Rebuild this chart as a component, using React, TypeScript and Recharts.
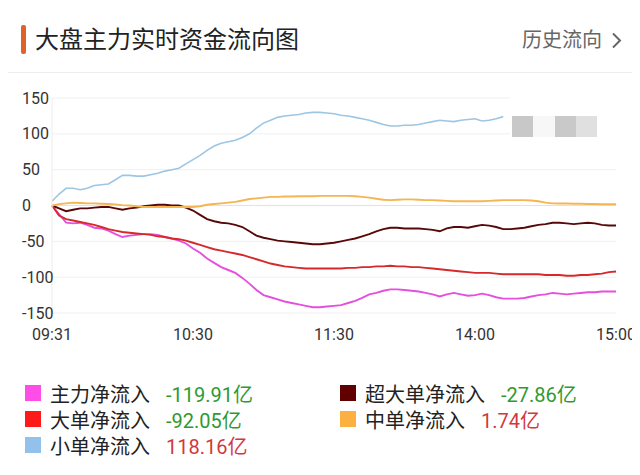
import React from 'react';
import { LineChart, Line, XAxis, YAxis, CartesianGrid, ReferenceLine } from 'recharts';

// 3-minute samples: 09:31 .. 11:30, 13:03 .. 15:00 (81 points)
const times: string[] = [];
for (let i = 0; i <= 80; i++) {
  const m = i <= 40 ? 570 + i * 3 : 780 + (i - 40) * 3;
  const hh = String(Math.floor(m / 60)).padStart(2, '0');
  const mm = String(m % 60).padStart(2, '0');
  times.push(i === 0 ? '09:31' : `${hh}:${mm}`);
}

const yTicks = [-150, -100, -50, 0, 50, 100, 150];

// 主力净流入
const mainFlow = [
  0, -12, -24, -25, -24, -27, -31, -32, -35, -40,
  -44, -42, -41, -40, -40, -41, -44, -46, -49, -53,
  -60, -66, -74, -80, -86, -90, -94, -101, -109, -118,
  -125, -128, -131, -134, -136, -138, -140, -142, -142, -141,
  -140, -139, -136, -133, -129, -124, -122, -119, -117, -117,
  -118, -119, -120, -122, -124, -127, -124, -122, -124, -126,
  -125, -123, -125, -128, -130, -130, -130, -129, -127, -125,
  -124, -122, -123, -124, -123, -122, -121, -121, -120, -120,
  -119.91,
];

// 超大单净流入
const superLarge = [
  0, -4, -8, -6, -4, -4, -3, -2, -2, -4,
  -6, -4, -3, -1, 0, 1, 1, 0, 0, -3,
  -7, -13, -19, -22, -24, -25, -27, -30, -36, -42,
  -45, -47, -49, -50, -51, -52, -53, -54, -54, -53,
  -52, -50, -48, -46, -43, -40, -36, -33, -31, -31,
  -32, -32, -32, -33, -34, -36, -32, -30, -30, -31,
  -29, -27, -28, -30, -33, -33, -32, -31, -29, -27,
  -26, -24, -24, -25, -26, -25, -24, -25, -27, -28,
  -27.86,
];

// 大单净流入
const large = [
  0, -14, -19, -21, -23, -25, -27, -30, -33, -35,
  -37, -38, -39, -40, -41, -43, -44, -46, -47, -49,
  -52, -55, -58, -61, -63, -65, -67, -69, -72, -75,
  -78, -81, -83, -85, -86, -87, -88, -88, -88, -88,
  -88, -88, -87, -87, -86, -86, -85, -85, -84, -85,
  -85, -86, -86, -87, -88, -89, -90, -91, -92, -93,
  -94, -94, -94, -95, -96, -96, -96, -96, -96, -96,
  -97, -97, -97, -98, -98, -97, -97, -96, -95, -93,
  -92.05,
];

// 中单净流入
const medium = [
  0, 2, 3, 4, 3.5, 3, 3, 2.5, 2, 1.5,
  0.5, 0, -1, -2, -2, -2, -2, -2, -2, -2,
  -2, -1, 1, 2, 3, 4, 5, 7, 9, 10,
  11, 12, 12, 12.5, 12.5, 13, 13, 13, 13.5, 13.5,
  13.5, 13.5, 13.5, 13, 12, 11, 9.5, 8, 7.5, 8,
  8.5, 8.5, 8, 7.5, 7.5, 7, 6.5, 6, 6, 6,
  6, 6, 6.5, 7, 7.5, 7.5, 7.5, 7.5, 7, 6,
  4, 3, 2.8, 2.8, 2.5, 2.5, 2, 2, 1.8, 1.8,
  1.74,
];

// 小单净流入 (the tail is covered in the picture)
const small: (number | null)[] = [
  6, 16, 24, 24, 22, 24, 28, 29, 30, 36,
  42, 42, 41, 41, 43, 45, 48, 50, 52, 58,
  64, 70, 77, 83, 87, 89, 91, 95, 100, 108,
  115, 119, 123, 125, 126, 127, 129, 130, 130, 129,
  128, 126, 125, 123, 121, 119, 116, 113, 111, 111,
  112, 112, 113, 115, 117, 119, 118, 117, 119, 120,
  121, 118, 119, 121, 124, null, null, null, null, null,
  null, null, null, null, null, null, null, null, null, null,
  null,
];

const seriesNames = ['主力净流入', '超大单净流入', '大单净流入', '中单净流入', '小单净流入'];
const latestValues = [-119.91, -27.86, -92.05, 1.74, 118.16];
const seriesKeys = ['main', 'superLarge', 'large', 'medium', 'small'];
const lineColors = ['#e64fde', '#580808', '#d6292b', '#f4b552', '#9cc6e4'];
const swatchColors = ['#ff4ee8', '#600000', '#ff1a1a', '#fbb040', '#92c2ea'];

const data = times.map((time, i) => ({
  time,
  main: mainFlow[i],
  superLarge: superLarge[i],
  large: large[i],
  medium: medium[i],
  small: small[i],
}));

const font = "Roboto, 'Noto Sans CJK SC', sans-serif";

const YTick = (props: any) => {
  const { y, payload } = props;
  return (
    <text x={22} y={y} dy={5.5} fill="#333" fontSize={16} fontFamily={font} textAnchor="start">
      {payload.value}
    </text>
  );
};

// legend slots: [column left, row center]
const legendSlots = [
  [25, 393],
  [340, 393],
  [25, 419],
  [340, 419],
  [25, 445],
];

export default function App() {
  return (
    <div
      style={{
        position: 'relative',
        width: 640,
        height: 475,
        margin: -8,
        background: '#fff',
        fontFamily: font,
        overflow: 'hidden',
      }}
    >
      <div style={{ position: 'absolute', left: 0, top: 0, width: 640, height: 7, background: '#f4f5f9' }} />
      <div
        style={{ position: 'absolute', left: 21, top: 25, width: 5, height: 29, borderRadius: 2, background: '#e0612a' }}
      />
      <div style={{ position: 'absolute', left: 35, top: 24, fontSize: 24, lineHeight: '32px', color: '#222' }}>
        大盘主力实时资金流向图
      </div>
      <div style={{ position: 'absolute', left: 522, top: 26, fontSize: 20, lineHeight: '28px', color: '#666' }}>
        历史流向
      </div>
      <svg style={{ position: 'absolute', left: 611, top: 32 }} width={12} height={17}>
        <polyline points="2,1.5 9,8.5 2,15.5" fill="none" stroke="#666" strokeWidth={2} />
      </svg>
      <div style={{ position: 'absolute', left: 0, top: 72, width: 640, height: 1, background: '#eeeeee' }} />

      <div style={{ position: 'absolute', left: 0, top: 80 }}>
        <LineChart
          width={640}
          height={270}
          data={data}
          margin={{ top: 18, right: 24, bottom: 7, left: 0 }}
          style={{ overflow: 'visible' }}
        >
          <CartesianGrid vertical={false} stroke="#f0f0f0" />
          <XAxis
            dataKey="time"
            interval={19}
            tickLine={false}
            axisLine={false}
            height={30}
            tickMargin={10}
            tick={{ fontSize: 16, fill: '#333', fontFamily: font }}
          />
          <YAxis
            width={52}
            domain={[-150, 150]}
            ticks={yTicks}
            tickLine={false}
            axisLine={{ stroke: '#ececec' }}
            tick={<YTick />}
          />
          <ReferenceLine y={0} stroke="#e2e2e2" />
          {seriesKeys.map((key, i) => (
            <Line
              key={key}
              type="linear"
              dataKey={key}
              name={seriesNames[i]}
              stroke={lineColors[i]}
              strokeWidth={i === 4 ? 1.6 : 1.9}
              dot={false}
              connectNulls={false}
              isAnimationActive={false}
            />
          ))}
        </LineChart>
      </div>

      {/* covered corner with blurred blocks */}
      <div style={{ position: 'absolute', left: 510, top: 92, width: 112, height: 50, background: '#fff' }}>
        <div style={{ position: 'absolute', left: 2, top: 24, width: 21, height: 21, background: '#c8c8c8' }} />
        <div style={{ position: 'absolute', left: 23, top: 24, width: 22, height: 21, background: '#f7f7f7' }} />
        <div style={{ position: 'absolute', left: 45, top: 24, width: 21, height: 21, background: '#c9c9c9' }} />
        <div style={{ position: 'absolute', left: 66, top: 24, width: 21, height: 21, background: '#e0e0e0' }} />
      </div>

      {seriesNames.map((name, i) => {
        const [left, cy] = legendSlots[i];
        const v = latestValues[i];
        return (
          <div
            key={name}
            style={{
              position: 'absolute',
              left,
              top: cy - 14,
              height: 28,
              display: 'flex',
              alignItems: 'center',
              fontSize: 20,
              whiteSpace: 'nowrap',
            }}
          >
            <span style={{ width: 16, height: 16, background: swatchColors[i], marginRight: 9 }} />
            <span style={{ color: '#222' }}>{name}</span>
            <span style={{ color: v < 0 ? '#2f9a30' : '#d1393c', marginLeft: 16 }}>{v.toFixed(2)}亿</span>
          </div>
        );
      })}
    </div>
  );
}
